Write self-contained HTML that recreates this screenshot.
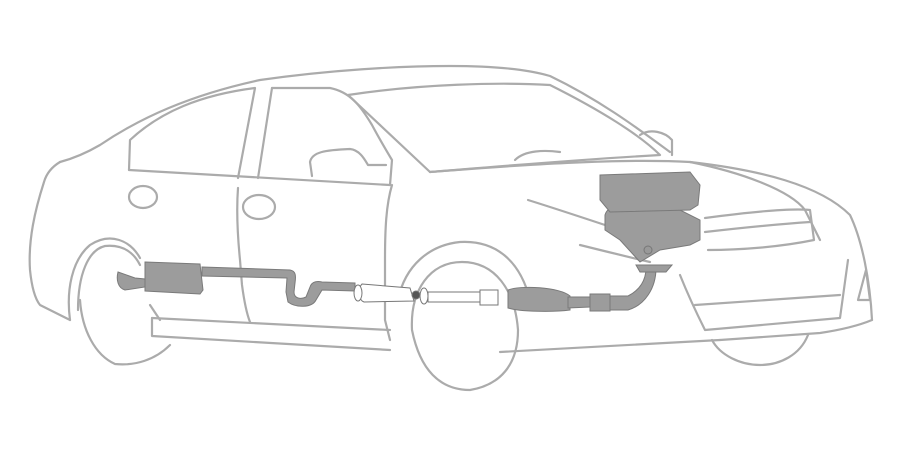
<!DOCTYPE html>
<html><head><style>html,body{margin:0;padding:0;background:#fff;width:900px;height:458px;overflow:hidden}</style></head>
<body>
<svg width="900" height="458" viewBox="0 0 900 458" xmlns="http://www.w3.org/2000/svg">
<g fill="none" stroke="#ababab" stroke-width="2.2" stroke-linecap="round" stroke-linejoin="round">
<!-- roof -->
<path d="M60,162 C75,158 88,152 100,145 C140,118 190,95 260,80 C330,70 400,66 450,66 C500,66 530,70 550,76 C600,100 640,130 670,152"/>
<!-- rear -->
<path d="M60,162 C50,168 46,175 44,182 C35,210 28,240 30,270 C32,290 36,300 40,305 L70,320"/>
<!-- rear window -->
<path d="M129,170 L130,140 C160,112 200,95 255,88 L238,178"/>
<path d="M272,88 L258,178"/>
<!-- front door window -->
<path d="M272,88 L330,88 C350,92 360,105 372,125 C380,140 386,150 392,160 L390,185"/>
<!-- beltline -->
<path d="M129,170 L390,185"/>
<!-- mirror -->
<path d="M312,176 L310,162 C312,152 325,150 350,149 C360,150 365,160 368,165 L386,165"/>
<!-- windshield -->
<path d="M348,95 C420,84 500,82 550,85 C600,110 640,135 660,155 C570,160 480,168 430,172 Z"/>
<!-- door lines -->
<path d="M238,188 C236,215 238,240 240,260 L242,285 C244,300 246,312 250,322"/>
<path d="M392,185 C386,205 385,230 385,260 L385,320 L390,340"/>
<!-- handles -->
<ellipse cx="143" cy="197" rx="14" ry="11"/>
<ellipse cx="259" cy="207" rx="16" ry="12"/>
<!-- hood -->
<path d="M430,172 C520,165 620,158 690,162 C760,170 820,185 850,215 C862,240 870,280 872,320"/>
<path d="M640,135 C650,128 665,132 672,140 L672,155"/>
<path d="M690,162 C740,172 790,190 805,210 L820,240"/>
<!-- headlight -->
<path d="M705,218 C750,212 790,208 810,210 L814,240 C780,247 740,250 708,250"/>
<path d="M705,232 C740,228 780,224 810,222"/>
<path d="M528,200 C560,210 590,220 620,230"/>
<path d="M580,245 C600,250 620,255 650,262"/>
<path d="M515,160 C525,150 545,150 560,152"/>
<!-- front bumper -->
<path d="M680,275 C690,300 700,320 705,330 L840,318 L848,260"/>
<path d="M695,305 L840,295"/>
<path d="M858,300 L866,270 L870,300 Z"/>
<path d="M872,320 C860,325 840,330 820,333 L720,340"/>
<!-- rocker -->
<path d="M152,318 L152,336 L390,350"/>
<path d="M152,318 L390,330"/>
<path d="M500,352 L720,340"/>
<!-- rear wheel -->
<path d="M70,320 C66,290 72,260 90,245 C110,232 130,240 140,258"/>
<path d="M78,310 C78,275 88,250 105,246 C125,244 135,255 140,265"/>
<path d="M80,300 C82,330 95,355 115,364 C135,366 155,360 170,345"/>
<path d="M150,305 L160,320"/>
<!-- front wheel -->
<path d="M398,300 C405,265 430,245 460,242 C495,240 520,260 530,300"/>
<path d="M412,330 C410,290 430,262 462,262 C495,262 515,290 518,330 C518,365 500,385 470,390 C440,390 420,370 412,330"/>
<path d="M712,340 C720,355 740,365 760,365 C780,365 800,355 808,335"/>
</g>
<!-- exhaust -->
<g fill="#9c9c9c" stroke="#7a7a7a" stroke-width="1">
<path d="M118,272 L135,278 L145,279 L145,287 L125,290 C118,288 116,280 118,272 Z"/>
<path d="M145,262 L200,264 L203,290 L200,294 L145,291 Z"/>
<path d="M202,267 L290,270 C296,271 296,276 295,283 L294,292 C294,298 300,300 306,297 L310,287 C312,281 318,281 322,282 L355,283 L355,291 L322,290 L316,300 C312,308 296,308 288,302 L286,292 L287,278 L202,276 Z"/>
<path d="M508,290 C520,285 560,287 570,296 L570,310 C555,312 520,312 508,308 Z"/>
<path d="M568,297 L590,297 L590,307 L568,308 Z"/>
<rect x="590" y="294" width="20" height="17"/>
<path d="M610,296 L628,296 C640,290 646,280 646,268 L656,268 C656,288 645,305 628,310 L610,310 Z"/>
<path d="M636,265 L672,265 L666,272 L640,272 Z"/>
<path d="M605,215 C608,205 620,205 630,210 L680,210 L700,220 L700,240 L690,245 L660,250 L640,262 L620,240 L605,230 Z"/>
<path d="M600,175 L690,172 L700,185 L698,205 L690,210 L610,212 L600,200 Z"/>
</g>
<g fill="#fff" stroke="#777" stroke-width="1">
<path d="M362,284 L410,288 L414,301 L364,302 C358,300 358,288 362,284 Z"/>
<rect x="428" y="292" width="52" height="10"/>
<rect x="480" y="290" width="18" height="15"/>
<ellipse cx="358" cy="293" rx="4" ry="8"/>
<ellipse cx="424" cy="296" rx="4" ry="8"/>
<circle cx="416" cy="295" r="4" fill="#555"/>
<circle cx="648" cy="250" r="4" fill="#999"/>
</g>
</svg>
</body></html>
